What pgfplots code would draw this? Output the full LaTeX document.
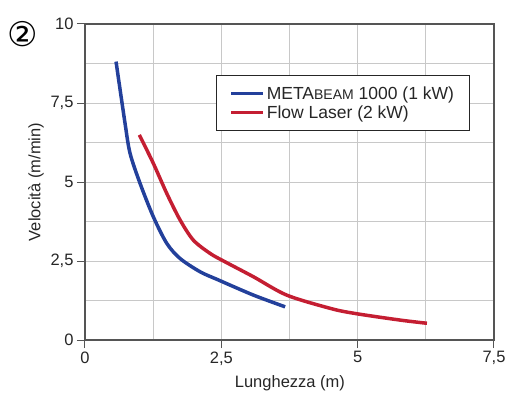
\documentclass[border=0pt]{standalone}
\usepackage{pgfplots}
\pgfplotsset{compat=1.18}
\usepackage{fontspec}
\setmainfont{Liberation Sans}
\newfontfamily\symfont{DejaVu Sans}
\definecolor{cblue}{RGB}{35,64,155}
\definecolor{cred}{RGB}{196,30,50}
\definecolor{cgrid}{RGB}{200,200,200}
\definecolor{caxis}{RGB}{85,85,85}
\begin{document}
\begin{tikzpicture}
\begin{axis}[
  at={(0,0)}, anchor=south west,
  scale only axis, width=409pt, height=316pt,
  xmin=0, xmax=7.5, ymin=0, ymax=10,
  xtick={0,2.5,5,7.5}, ytick={0,2.5,5,7.5,10},
  minor tick num=1, grid=both,
  major grid style={cgrid, line width=1pt},
  minor grid style={cgrid, line width=1pt},
  minor tick length=0pt,
  tick align=outside, major tick length=8pt,
  xtick pos=left, ytick pos=left,
  tick style={caxis, line width=1pt},
  axis line style={caxis, line width=1.3pt},
  /pgf/number format/use comma,
  /pgf/number format/assume math mode=true,
  ticklabel style={font=\fontsize{16.5}{18}\selectfont, text=black!85},
  label style={font=\fontsize{16.5}{18}\selectfont, text=black!85},
  xlabel={Lunghezza (m)},
  ylabel={Velocità (m/min)},
  xlabel style={at={(axis description cs:0.501,-0.136)}, anchor=center},
  ylabel style={at={(axis description cs:-0.12,0.5)}, anchor=center},
  legend style={at={(rel axis cs:0.32,0.839)}, anchor=north west,
    draw=black!85, line width=0.9pt, fill=white,
    font=\fontsize{17.5}{19}\selectfont, text=black!85,
    inner xsep=13pt, inner ysep=9pt, row sep=1pt,
    legend cell align=left},
  legend image code/.code={\draw[#1, line width=3.5pt] (0pt,0pt) -- (32pt,0pt);},
]
\addplot[cblue, line width=3.5pt, smooth, tension=0.5] coordinates {
(0.569,8.81) (0.734,6.86) (0.826,5.91) (1.009,4.96) (1.253,3.90)
(1.499,3.06) (1.743,2.58) (2.11,2.16) (2.446,1.90) (3.09,1.42) (3.67,1.05)};
\addlegendentry{META{\fontsize{14}{14}\selectfont BEAM} 1000 (1 kW)}
\addplot[cred, line width=3.5pt, smooth, tension=0.5] coordinates {
(0.997,6.49) (1.253,5.59) (1.499,4.64) (1.743,3.80) (1.987,3.16) (2.294,2.74)
(2.54,2.50) (3.09,2.00) (3.70,1.42) (4.50,1.00) (4.95,0.84)
(5.78,0.63) (6.27,0.53)};
\addlegendentry{Flow Laser (2 kW)}
\end{axis}
\node at (-62.5pt,305.5pt) {\symfont\fontsize{34}{36}\selectfont ②};
\pgfresetboundingbox
\path[use as bounding box] (-85pt,-54pt) rectangle (423pt,340pt);
\end{tikzpicture}
\end{document}
